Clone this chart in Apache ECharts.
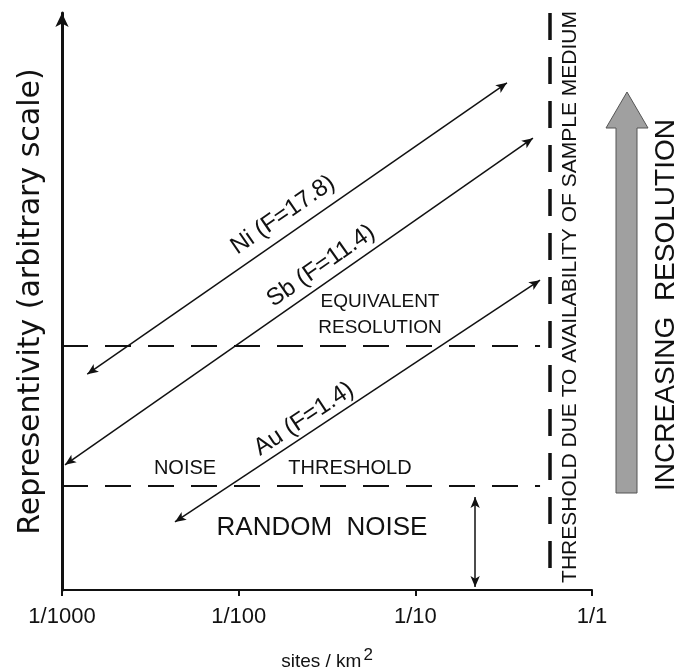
<!DOCTYPE html>
<html>
<head>
<meta charset="utf-8">
<script src="https://cdn.jsdelivr.net/npm/echarts@6/dist/echarts.min.js"></script>
<style>
  html, body { margin: 0; padding: 0; background: #fff; }
  #chart { width: 680px; height: 667px; }
</style>
</head>
<body>
<div id="chart"></div>
<script>
// Decade ticks on the sampling-density axis (sites per km²)
const xTickValues = [0.001, 0.01, 0.1, 1];
const xTickLabels = ['1/1000', '1/100', '1/10', '1/1'];

// Representivity lines: [density, representivity] at each arrow head
const niLine = [[0.00139, 37.4], [0.330, 87.9]];
const sbLine = [[0.00104, 21.7], [0.463, 78.3]];
const auLine = [[0.00436, 11.8], [0.508, 53.7]];

// Horizontal reference levels
const equivalentResolution = [[0.001, 42.3], [0.508, 42.3]];
const noiseThreshold = [[0.001, 18.0], [0.508, 18.0]];

// Limit set by availability of the sample medium
const mediumThreshold = [[0.578, 100], [0.578, 1.4]];

// Span of the random-noise band
const randomNoiseSpan = [[0.218, 16.1], [0.218, 0.5]];

const FONT = '"Liberation Sans", Arial, sans-serif';
const INK = '#111';

function segment(pts) {
  return [{ coord: pts[0] }, { coord: pts[1] }];
}

function tickLabel(v) {
  let best = 0;
  xTickValues.forEach((t, i) => {
    if (Math.abs(Math.log10(t) - Math.log10(v)) < Math.abs(Math.log10(xTickValues[best]) - Math.log10(v))) best = i;
  });
  return xTickLabels[best];
}

const deg = Math.PI / 180;

// Free text annotations (pixel placement)
const notes = [
  { text: 'Ni (F=17.8)', x: 283, y: 215, rot: 34.7, size: 24 },
  { text: 'Sb (F=11.4)', x: 321, y: 266, rot: 34.9, size: 24 },
  { text: 'Au (F=1.4)', x: 304, y: 419, rot: 33.5, size: 24 },
  { text: 'EQUIVALENT', x: 380, y: 302, rot: 0, size: 19 },
  { text: 'RESOLUTION', x: 380, y: 328, rot: 0, size: 19 },
  { text: 'NOISE', x: 185, y: 468, rot: 0, size: 20 },
  { text: 'THRESHOLD', x: 350, y: 468, rot: 0, size: 20 },
  { text: 'RANDOM  NOISE', x: 322, y: 528, rot: 0, size: 26 },
  { text: 'THRESHOLD DUE TO AVAILABILITY OF SAMPLE MEDIUM', x: 570, y: 297, rot: 90, size: 21 },
  { text: 'INCREASING  RESOLUTION', x: 666, y: 305, rot: 90, size: 28 }
];

const graphics = notes.map(n => ({
  type: 'text',
  x: n.x,
  y: n.y,
  rotation: n.rot * deg,
  silent: true,
  style: {
    text: n.text,
    fill: INK,
    font: n.size + 'px ' + FONT,
    align: 'center',
    verticalAlign: 'middle'
  }
}));

// Broad arrow pointing towards higher resolution
graphics.push({
  type: 'polygon',
  silent: true,
  shape: {
    points: [[616, 493], [616, 128], [606, 128], [627, 92], [648, 128], [637, 128], [637, 493]]
  },
  style: { fill: '#a0a0a0', stroke: '#555', lineWidth: 1 }
});

const chart = echarts.init(document.getElementById('chart'), null, { renderer: 'canvas' });

chart.setOption({
  animation: false,
  backgroundColor: '#fff',
  grid: { left: 62, right: 88, top: 13, bottom: 77, containLabel: false, outerBoundsMode: 'none' },
  xAxis: {
    type: 'log',
    logBase: 10,
    min: 0.001,
    max: 1,
    name: '{a|sites / km}{b|2}',
    nameLocation: 'middle',
    nameGap: 57,
    nameTextStyle: {
      rich: {
        a: { fontFamily: FONT, fontSize: 19, color: INK },
        b: { fontFamily: FONT, fontSize: 17, color: INK, padding: [0, 0, 12, 2] }
      }
    },
    axisLine: { show: true, onZero: false, lineStyle: { color: INK, width: 2 } },
    axisTick: { show: true, inside: false, length: 6, lineStyle: { color: INK, width: 2 } },
    minorTick: { show: false },
    splitLine: { show: false },
    axisLabel: {
      margin: 16,
      fontFamily: FONT,
      fontSize: 22,
      color: INK,
      formatter: tickLabel
    }
  },
  yAxis: {
    type: 'value',
    min: 0,
    max: 100,
    name: 'Representivity (arbitrary scale)',
    nameLocation: 'middle',
    nameRotate: 90,
    nameGap: 16,
    nameTextStyle: { fontFamily: '"DejaVu Sans", sans-serif', fontSize: 30, color: INK },
    axisLine: {
      show: true,
      onZero: false,
      symbol: ['none', 'arrow'],
      symbolSize: [10, 14],
      lineStyle: { color: INK, width: 3 }
    },
    axisTick: { show: false },
    axisLabel: { show: false },
    splitLine: { show: false }
  },
  series: [
    {
      name: 'representivity',
      type: 'line',
      data: [],
      silent: true,
      markLine: {
        silent: true,
        animation: false,
        symbol: ['arrow', 'arrow'],
        symbolSize: [7, 11],
        label: { show: false },
        lineStyle: { color: INK, width: 1.5, type: 'solid' },
        data: [segment(niLine), segment(sbLine), segment(auLine), segment(randomNoiseSpan)]
      }
    },
    {
      name: 'levels',
      type: 'line',
      data: [],
      silent: true,
      markLine: {
        silent: true,
        animation: false,
        symbol: ['none', 'none'],
        label: { show: false },
        lineStyle: { color: INK, width: 2, type: [26, 17] },
        data: [segment(equivalentResolution), segment(noiseThreshold)]
      }
    },
    {
      name: 'medium',
      type: 'line',
      data: [],
      silent: true,
      markLine: {
        silent: true,
        animation: false,
        symbol: ['none', 'none'],
        label: { show: false },
        lineStyle: { color: INK, width: 3.5, type: [27, 17] },
        data: [segment(mediumThreshold)]
      }
    }
  ],
  graphic: graphics
});
</script>
</body>
</html>
